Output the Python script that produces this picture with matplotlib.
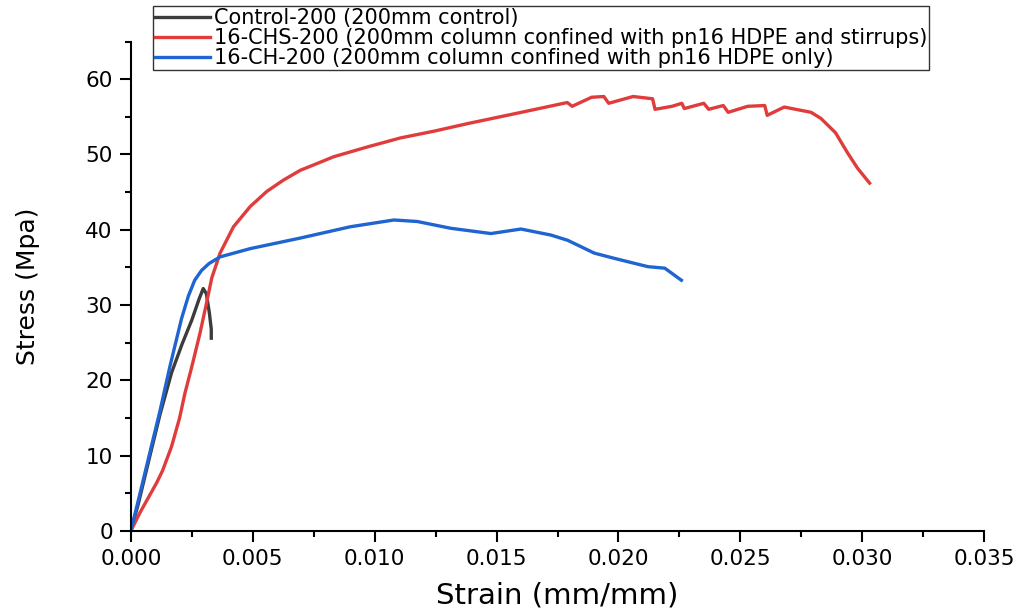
import numpy as np
import matplotlib
matplotlib.use("Agg")
import matplotlib.pyplot as plt
from matplotlib.ticker import MultipleLocator

plt.rcParams['font.family'] = ['DejaVu Sans']

# Control-200
ctrl_strain = [0.0, 0.0003, 0.0008, 0.0012, 0.00167, 0.0021, 0.0025, 0.0028, 0.00297, 0.0031, 0.00322, 0.0033, 0.0033]
ctrl_stress = [0.0, 3.5, 10.2, 15.5, 21.0, 24.8, 28.0, 30.8, 32.2, 31.5, 29.0, 26.8, 25.6]

# 16-CHS-200
chs_strain = [0.0, 0.00037, 0.00106, 0.0013, 0.00167, 0.0020, 0.00222, 0.0025, 0.00284, 0.0031, 0.00332, 0.00366,
              0.00421, 0.0049, 0.00558, 0.00626, 0.00695, 0.00764, 0.00832, 0.0097, 0.01106, 0.01244,
              0.01381, 0.01587, 0.0179, 0.0181, 0.0189, 0.0194, 0.0196, 0.0206, 0.0214, 0.0215,
              0.0222, 0.0226, 0.0227, 0.0235, 0.0237, 0.0243, 0.0245, 0.0253, 0.0260, 0.0261,
              0.0268, 0.0279, 0.0283, 0.0289, 0.0294, 0.0298, 0.0303]
chs_stress = [0.0, 2.4, 6.4, 8.0, 11.2, 15.0, 18.3, 21.8, 26.3, 30.2, 33.6, 36.9,
              40.4, 43.1, 45.1, 46.6, 47.9, 48.8, 49.7, 51.0, 52.2, 53.1,
              54.1, 55.5, 56.9, 56.4, 57.6, 57.7, 56.8, 57.7, 57.4, 56.0,
              56.4, 56.8, 56.1, 56.8, 56.0, 56.5, 55.6, 56.4, 56.5, 55.2,
              56.3, 55.6, 54.8, 52.9, 50.2, 48.2, 46.2]

# 16-CH-200
ch_strain = [0.0, 0.0004, 0.00078, 0.0012, 0.0016, 0.00208, 0.00236, 0.00262, 0.0029, 0.0032, 0.00366, 0.0049, 0.00695,
             0.009, 0.01079, 0.01175, 0.01312, 0.01477, 0.0160, 0.01723, 0.01792, 0.01901, 0.01984,
             0.02121, 0.0219, 0.02258]
ch_stress = [0.0, 5.3, 10.4, 16.0, 21.8, 28.2, 31.2, 33.3, 34.6, 35.5, 36.4, 37.5, 38.9,
             40.4, 41.3, 41.1, 40.2, 39.5, 40.1, 39.3, 38.6, 36.9, 36.2,
             35.1, 34.9, 33.3]

labels = ['Control-200 (200mm control)',
          '16-CHS-200 (200mm column confined with pn16 HDPE and stirrups)',
          '16-CH-200 (200mm column confined with pn16 HDPE only)']

fig = plt.figure(figsize=(10.22, 6.11), dpi=100)
ax = fig.add_axes([0.128, 0.131, 0.835, 0.801])

ax.plot(ctrl_strain, ctrl_stress, color='#3c3c3c', lw=2.4, label=labels[0])
ax.plot(chs_strain, chs_stress, color='#e03c3c', lw=2.4, label=labels[1])
ax.plot(ch_strain, ch_stress, color='#1f64d0', lw=2.4, label=labels[2])

ax.set_xlim(0, 0.035)
ax.set_ylim(0, 65)
ax.xaxis.set_major_locator(MultipleLocator(0.005))
ax.xaxis.set_minor_locator(MultipleLocator(0.0025))
ax.yaxis.set_major_locator(MultipleLocator(10))
ax.yaxis.set_minor_locator(MultipleLocator(5))
ax.xaxis.set_major_formatter(plt.FormatStrFormatter('%.3f'))
ax.spines['top'].set_visible(False)
ax.spines['right'].set_visible(False)
ax.spines['left'].set_linewidth(1.5)
ax.spines['bottom'].set_linewidth(1.5)
ax.tick_params(which='major', length=8, width=1.5, labelsize=15.5, pad=5)
ax.tick_params(which='minor', length=4.5, width=1.5)

ax.set_xlabel('Strain (mm/mm)', fontsize=21, labelpad=9)
ax.set_ylabel('Stress (Mpa)', fontsize=18, labelpad=33)

leg = fig.legend(loc='upper left', bbox_to_anchor=(0.150, 0.990), fontsize=15,
                 frameon=True, fancybox=False, edgecolor='black', handlelength=2.6,
                 borderpad=0.1, labelspacing=0.0, handletextpad=0.2, borderaxespad=0)
leg.get_frame().set_linewidth(1.0)

fig.savefig('out.png', dpi=100)
